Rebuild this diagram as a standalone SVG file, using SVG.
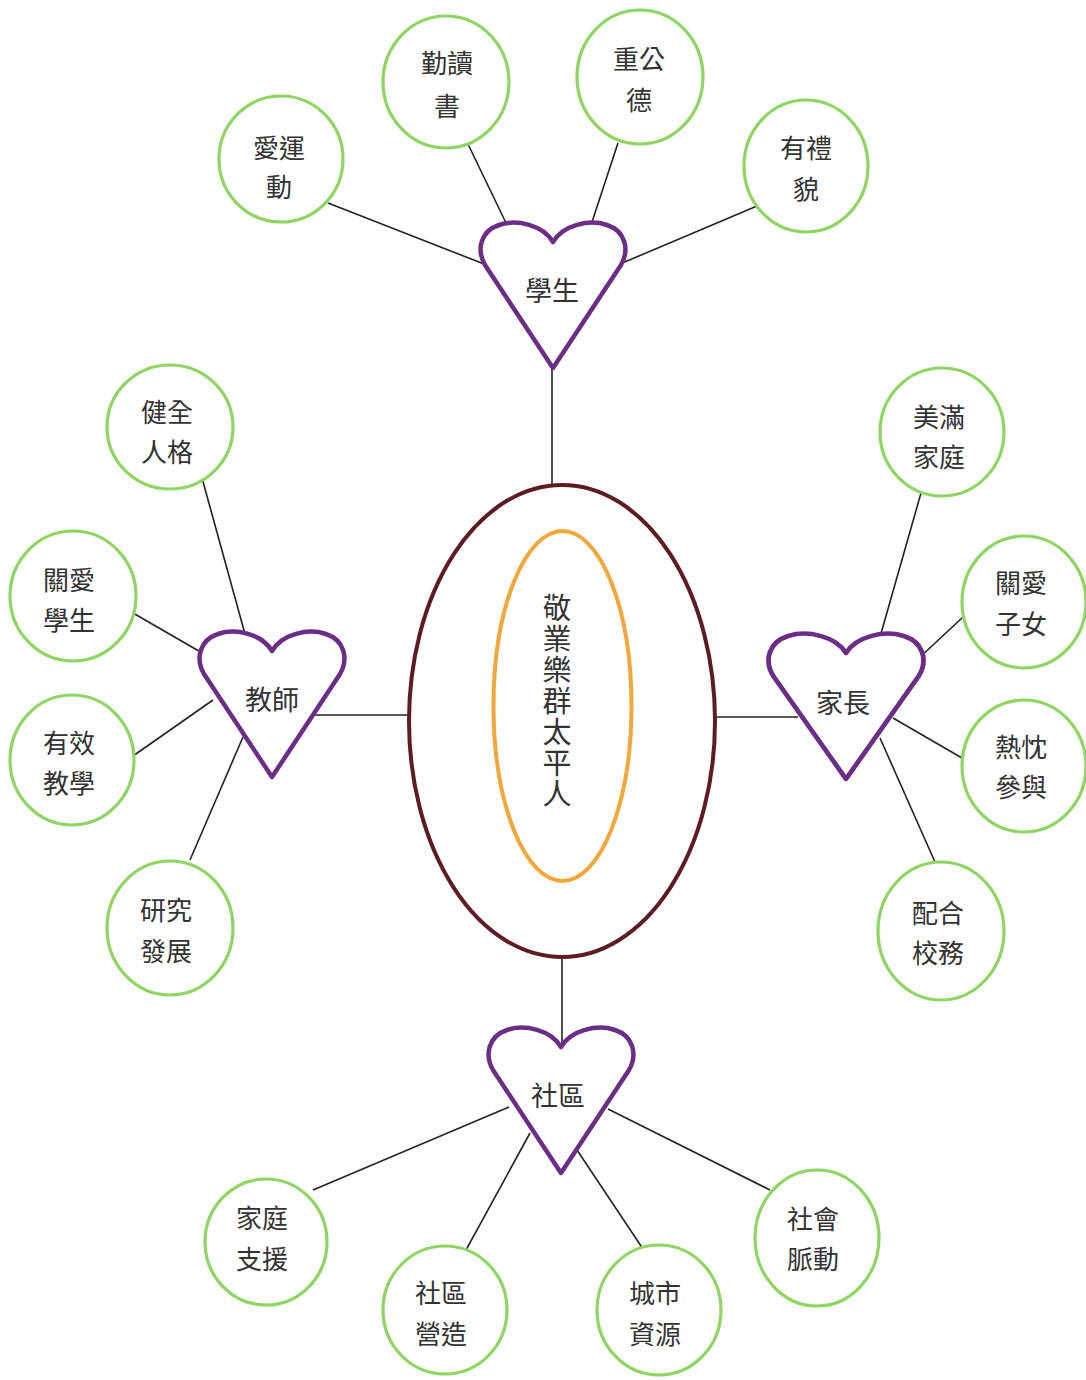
<svg xmlns="http://www.w3.org/2000/svg" xmlns:xlink="http://www.w3.org/1999/xlink" width="1086" height="1380" viewBox="0 0 1086 1380">
<style>
  .bg { fill: #ffffff; }
  .conn line { stroke: #222222; stroke-width: 1.6; }
  .circ { fill: #ffffff; stroke: #8fd562; stroke-width: 3.2; }
  .heart { fill: #ffffff; stroke: #6b2d86; stroke-width: 4.5; stroke-linejoin: round; }
  .lbl { font-family: "Noto Sans CJK TC", "Noto Sans CJK SC", sans-serif; font-size: 26px; fill: #333333; text-anchor: middle; }
  .hlbl { font-family: "Noto Sans CJK TC", "Noto Sans CJK SC", sans-serif; font-size: 27px; fill: #333333; text-anchor: middle; }
  .clbl { font-family: "Noto Sans CJK TC", "Noto Sans CJK SC", sans-serif; font-size: 29px; fill: #333333; writing-mode: vertical-rl; letter-spacing: 2px; }
</style>
<defs>
  <path id="heartShape" d="M 0 19 C 10 2, 36 -4, 54 2 C 72 8, 77 26, 68 42 L 0 145 L -68 42 C -77 26, -72 8, -54 2 C -36 -4, -10 2, 0 19 Z"/>
</defs>
<rect class="bg" x="0" y="0" width="1086" height="1380"/>

<g id="connectors" class="conn">
  <line x1="552" y1="366" x2="552" y2="486"/>
  <line x1="562" y1="956" x2="562" y2="1046"/>
  <line x1="312" y1="715" x2="410" y2="715"/>
  <line x1="714" y1="717" x2="798" y2="717"/>
  <line x1="328" y1="203" x2="484" y2="264"/>
  <line x1="467" y1="142" x2="507" y2="225"/>
  <line x1="618" y1="143" x2="591" y2="225"/>
  <line x1="757" y1="206" x2="620" y2="264"/>
  <line x1="202" y1="478" x2="245" y2="634"/>
  <line x1="133" y1="613" x2="204" y2="654"/>
  <line x1="133" y1="756" x2="213" y2="700"/>
  <line x1="190" y1="860" x2="243" y2="737"/>
  <line x1="921" y1="493" x2="880" y2="637"/>
  <line x1="963" y1="617" x2="918" y2="659"/>
  <line x1="962" y1="758" x2="893" y2="718"/>
  <line x1="935" y1="862" x2="880" y2="738"/>
  <line x1="313" y1="1190" x2="509" y2="1107"/>
  <line x1="466" y1="1250" x2="530" y2="1133"/>
  <line x1="645" y1="1252" x2="577" y2="1150"/>
  <line x1="770" y1="1190" x2="608" y2="1109"/>
</g>

<g id="center">
  <ellipse cx="562" cy="721" rx="153" ry="236" fill="#ffffff" stroke="#5e1c22" stroke-width="4"/>
  <ellipse cx="562.5" cy="706" rx="69" ry="175" fill="#ffffff" stroke="#f2a73b" stroke-width="4"/>
  <text class="clbl" x="557" y="593">敬業樂群太平人</text>
</g>

<g id="heart-students">
  <use xlink:href="#heartShape" href="#heartShape" class="heart" transform="translate(553,223)"/>
  <text class="hlbl" x="552" y="301">學生</text>
</g>
<g id="heart-teachers">
  <use xlink:href="#heartShape" href="#heartShape" class="heart" transform="translate(272,632)"/>
  <text class="hlbl" x="272" y="710">教師</text>
</g>
<g id="heart-parents">
  <use xlink:href="#heartShape" href="#heartShape" class="heart" transform="translate(846,634) scale(1.07,1)"/>
  <text class="hlbl" x="843" y="713">家長</text>
</g>
<g id="heart-community">
  <use xlink:href="#heartShape" href="#heartShape" class="heart" transform="translate(561,1028)"/>
  <text class="hlbl" x="558" y="1106">社區</text>
</g>

<g id="n-sport"><ellipse class="circ" cx="281" cy="159" rx="62" ry="63"/><text class="lbl" x="279" y="158">愛運</text><text class="lbl" x="279" y="197">動</text></g>
<g id="n-read"><ellipse class="circ" cx="446" cy="82" rx="63" ry="66"/><text class="lbl" x="447" y="73">勤讀</text><text class="lbl" x="447" y="116">書</text></g>
<g id="n-moral"><ellipse class="circ" cx="640" cy="77" rx="63" ry="67"/><text class="lbl" x="639" y="69">重公</text><text class="lbl" x="639" y="110">德</text></g>
<g id="n-polite"><ellipse class="circ" cx="806" cy="166" rx="62" ry="66"/><text class="lbl" x="806" y="158">有禮</text><text class="lbl" x="806" y="199">貌</text></g>

<g id="n-character"><ellipse class="circ" cx="170" cy="427" rx="63" ry="62"/><text class="lbl" x="167" y="422">健全</text><text class="lbl" x="167" y="462">人格</text></g>
<g id="n-carestudents"><ellipse class="circ" cx="73" cy="596" rx="63" ry="65"/><text class="lbl" x="69" y="590">關愛</text><text class="lbl" x="69" y="630">學生</text></g>
<g id="n-teaching"><ellipse class="circ" cx="72" cy="760" rx="62" ry="65"/><text class="lbl" x="69" y="753">有效</text><text class="lbl" x="69" y="793">教學</text></g>
<g id="n-research"><ellipse class="circ" cx="170" cy="928" rx="63" ry="67"/><text class="lbl" x="166" y="920">研究</text><text class="lbl" x="166" y="961">發展</text></g>

<g id="n-family"><ellipse class="circ" cx="942" cy="432" rx="62" ry="64"/><text class="lbl" x="939" y="427">美滿</text><text class="lbl" x="939" y="467">家庭</text></g>
<g id="n-children"><ellipse class="circ" cx="1024" cy="602" rx="62" ry="66"/><text class="lbl" x="1021" y="593">關愛</text><text class="lbl" x="1021" y="634">子女</text></g>
<g id="n-participate"><ellipse class="circ" cx="1024" cy="766" rx="62" ry="66"/><text class="lbl" x="1021" y="757">熱忱</text><text class="lbl" x="1021" y="797">參與</text></g>
<g id="n-school"><ellipse class="circ" cx="941" cy="931" rx="63" ry="69"/><text class="lbl" x="938" y="923">配合</text><text class="lbl" x="938" y="963">校務</text></g>

<g id="n-support"><ellipse class="circ" cx="266" cy="1242" rx="61" ry="63"/><text class="lbl" x="262" y="1228">家庭</text><text class="lbl" x="262" y="1269">支援</text></g>
<g id="n-build"><ellipse class="circ" cx="445" cy="1310" rx="62" ry="64"/><text class="lbl" x="441" y="1303">社區</text><text class="lbl" x="441" y="1344">營造</text></g>
<g id="n-resources"><ellipse class="circ" cx="659" cy="1310" rx="62" ry="65"/><text class="lbl" x="655" y="1303">城市</text><text class="lbl" x="655" y="1344">資源</text></g>
<g id="n-pulse"><ellipse class="circ" cx="817" cy="1238" rx="62" ry="68"/><text class="lbl" x="813" y="1229">社會</text><text class="lbl" x="813" y="1269">脈動</text></g>
</svg>
